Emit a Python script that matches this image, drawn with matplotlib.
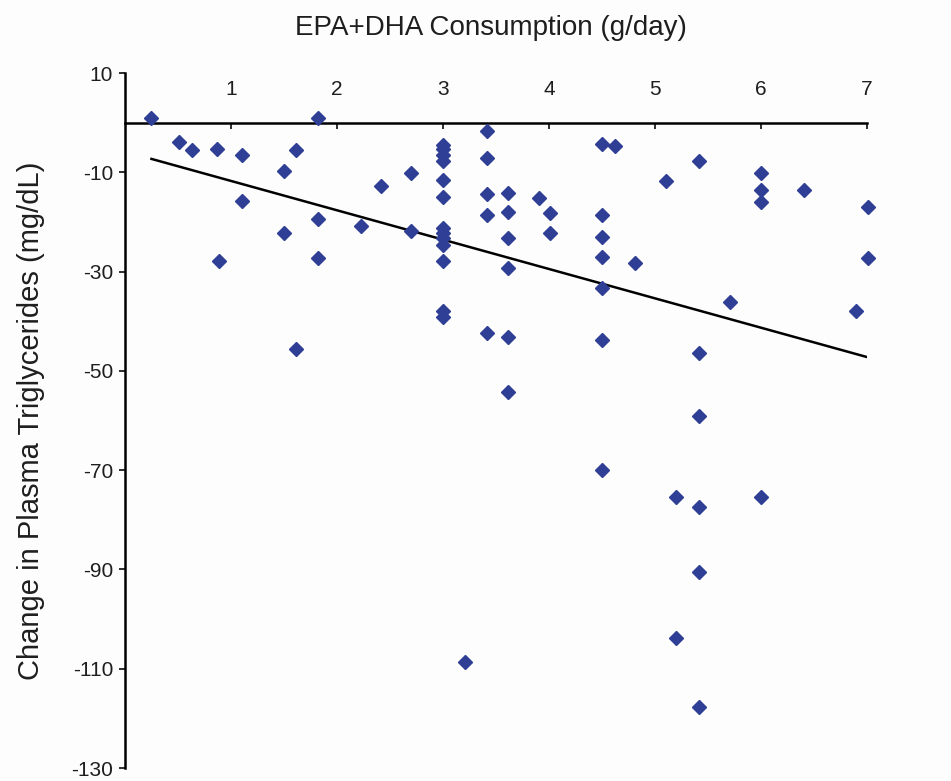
##################################################
# EPA+DHA consumption vs change in plasma triglycerides
##################################################
import numpy as np
import matplotlib.pyplot as plt

##################################################
# Data
##################################################
epa_dha = [0.25, 0.51, 0.63, 0.87, 0.89, 1.10, 1.10, 1.50, 1.50, 1.61,
           1.61, 1.82, 1.82, 1.82, 2.23, 2.42, 2.70, 2.70,
           3.00, 3.00, 3.00, 3.00, 3.00, 3.00, 3.00, 3.00, 3.00, 3.00,
           3.00, 3.00, 3.00,
           3.21, 3.42, 3.42, 3.42, 3.42, 3.42,
           3.61, 3.61, 3.61, 3.61, 3.61, 3.61,
           3.91, 4.01, 4.01,
           4.50, 4.50, 4.50, 4.50, 4.50, 4.50, 4.50,
           4.62, 4.81, 5.11, 5.20, 5.20,
           5.42, 5.42, 5.42, 5.42, 5.42, 5.42,
           5.71, 6.00, 6.00, 6.00, 6.00, 6.41, 6.90, 7.01, 7.01]
tg_change = [1.0, -3.8, -5.6, -5.4, -27.8, -6.5, -15.7, -9.8, -22.2, -5.6,
             -45.6, 1.0, -19.4, -27.3, -20.9, -12.7, -10.1, -21.9,
             -4.4, -5.4, -6.5, -7.8, -11.6, -14.9, -21.2, -22.2, -23.2, -24.6,
             -27.8, -38.0, -39.1,
             -108.7, -1.6, -7.1, -14.3, -18.5, -42.4,
             -14.1, -18.0, -23.3, -29.2, -43.2, -54.2,
             -15.2, -18.1, -22.2,
             -4.3, -18.5, -23.1, -27.0, -33.3, -43.8, -70.0,
             -4.8, -28.3, -11.7, -75.5, -103.9,
             -7.7, -46.3, -59.1, -77.4, -90.5, -117.7,
             -36.1, -10.1, -13.5, -15.9, -75.5, -13.6, -38.0, -16.9, -27.2]

# trend line end points
trend_x = [0.25, 7.0]
trend_y = [-7.3, -47.2]

x_ticks = [1, 2, 3, 4, 5, 6, 7]
y_ticks = [10, -10, -30, -50, -70, -90, -110, -130]

##################################################
# Plot
##################################################
plt.rcParams['font.family'] = ['Liberation Sans', 'DejaVu Sans']
plt.rcParams['axes.unicode_minus'] = False

fig = plt.figure(figsize=(9.51, 7.81), dpi=100, facecolor='#fdfdfd')
ax = fig.add_axes([0.1314, 0.0166, 0.78, 0.8899])
ax.set_facecolor('#fdfdfd')

ax.plot(epa_dha, tg_change, linestyle='none', marker='D', markersize=7.5,
        color='#2f3f96', clip_on=False, zorder=3)
ax.plot(trend_x, trend_y, color='black', linewidth=1.8, zorder=2)

ax.set_xlim(0, 7)
ax.set_ylim(-130, 10)

# x axis sits at y = 0 with labels above it
ax.spines['right'].set_visible(False)
ax.spines['bottom'].set_visible(False)
ax.spines['top'].set_position(('data', 0))
ax.spines['top'].set_linewidth(1.8)
ax.spines['left'].set_linewidth(1.8)
ax.xaxis.set_ticks_position('top')
ax.set_xticks(x_ticks)
ax.tick_params(axis='x', direction='in', length=4, width=1.3, pad=17,
               labelsize=15, colors='#1e1e1e')
ax.set_yticks(y_ticks)
ax.tick_params(axis='y', direction='out', length=4.5, width=1.3, pad=4,
               labelsize=15, colors='#1e1e1e')

ax.set_ylabel('Change in Plasma Triglycerides (mg/dL)', fontsize=21,
              color='#1e1e1e')
ax.yaxis.set_label_coords(-0.108, 0.5)

fig.text(491 / 951, 1 - 28 / 781, 'EPA+DHA Consumption (g/day)',
         ha='center', va='center', fontsize=20, color='#1e1e1e')

plt.savefig('out.png', dpi=100, facecolor=fig.get_facecolor())
